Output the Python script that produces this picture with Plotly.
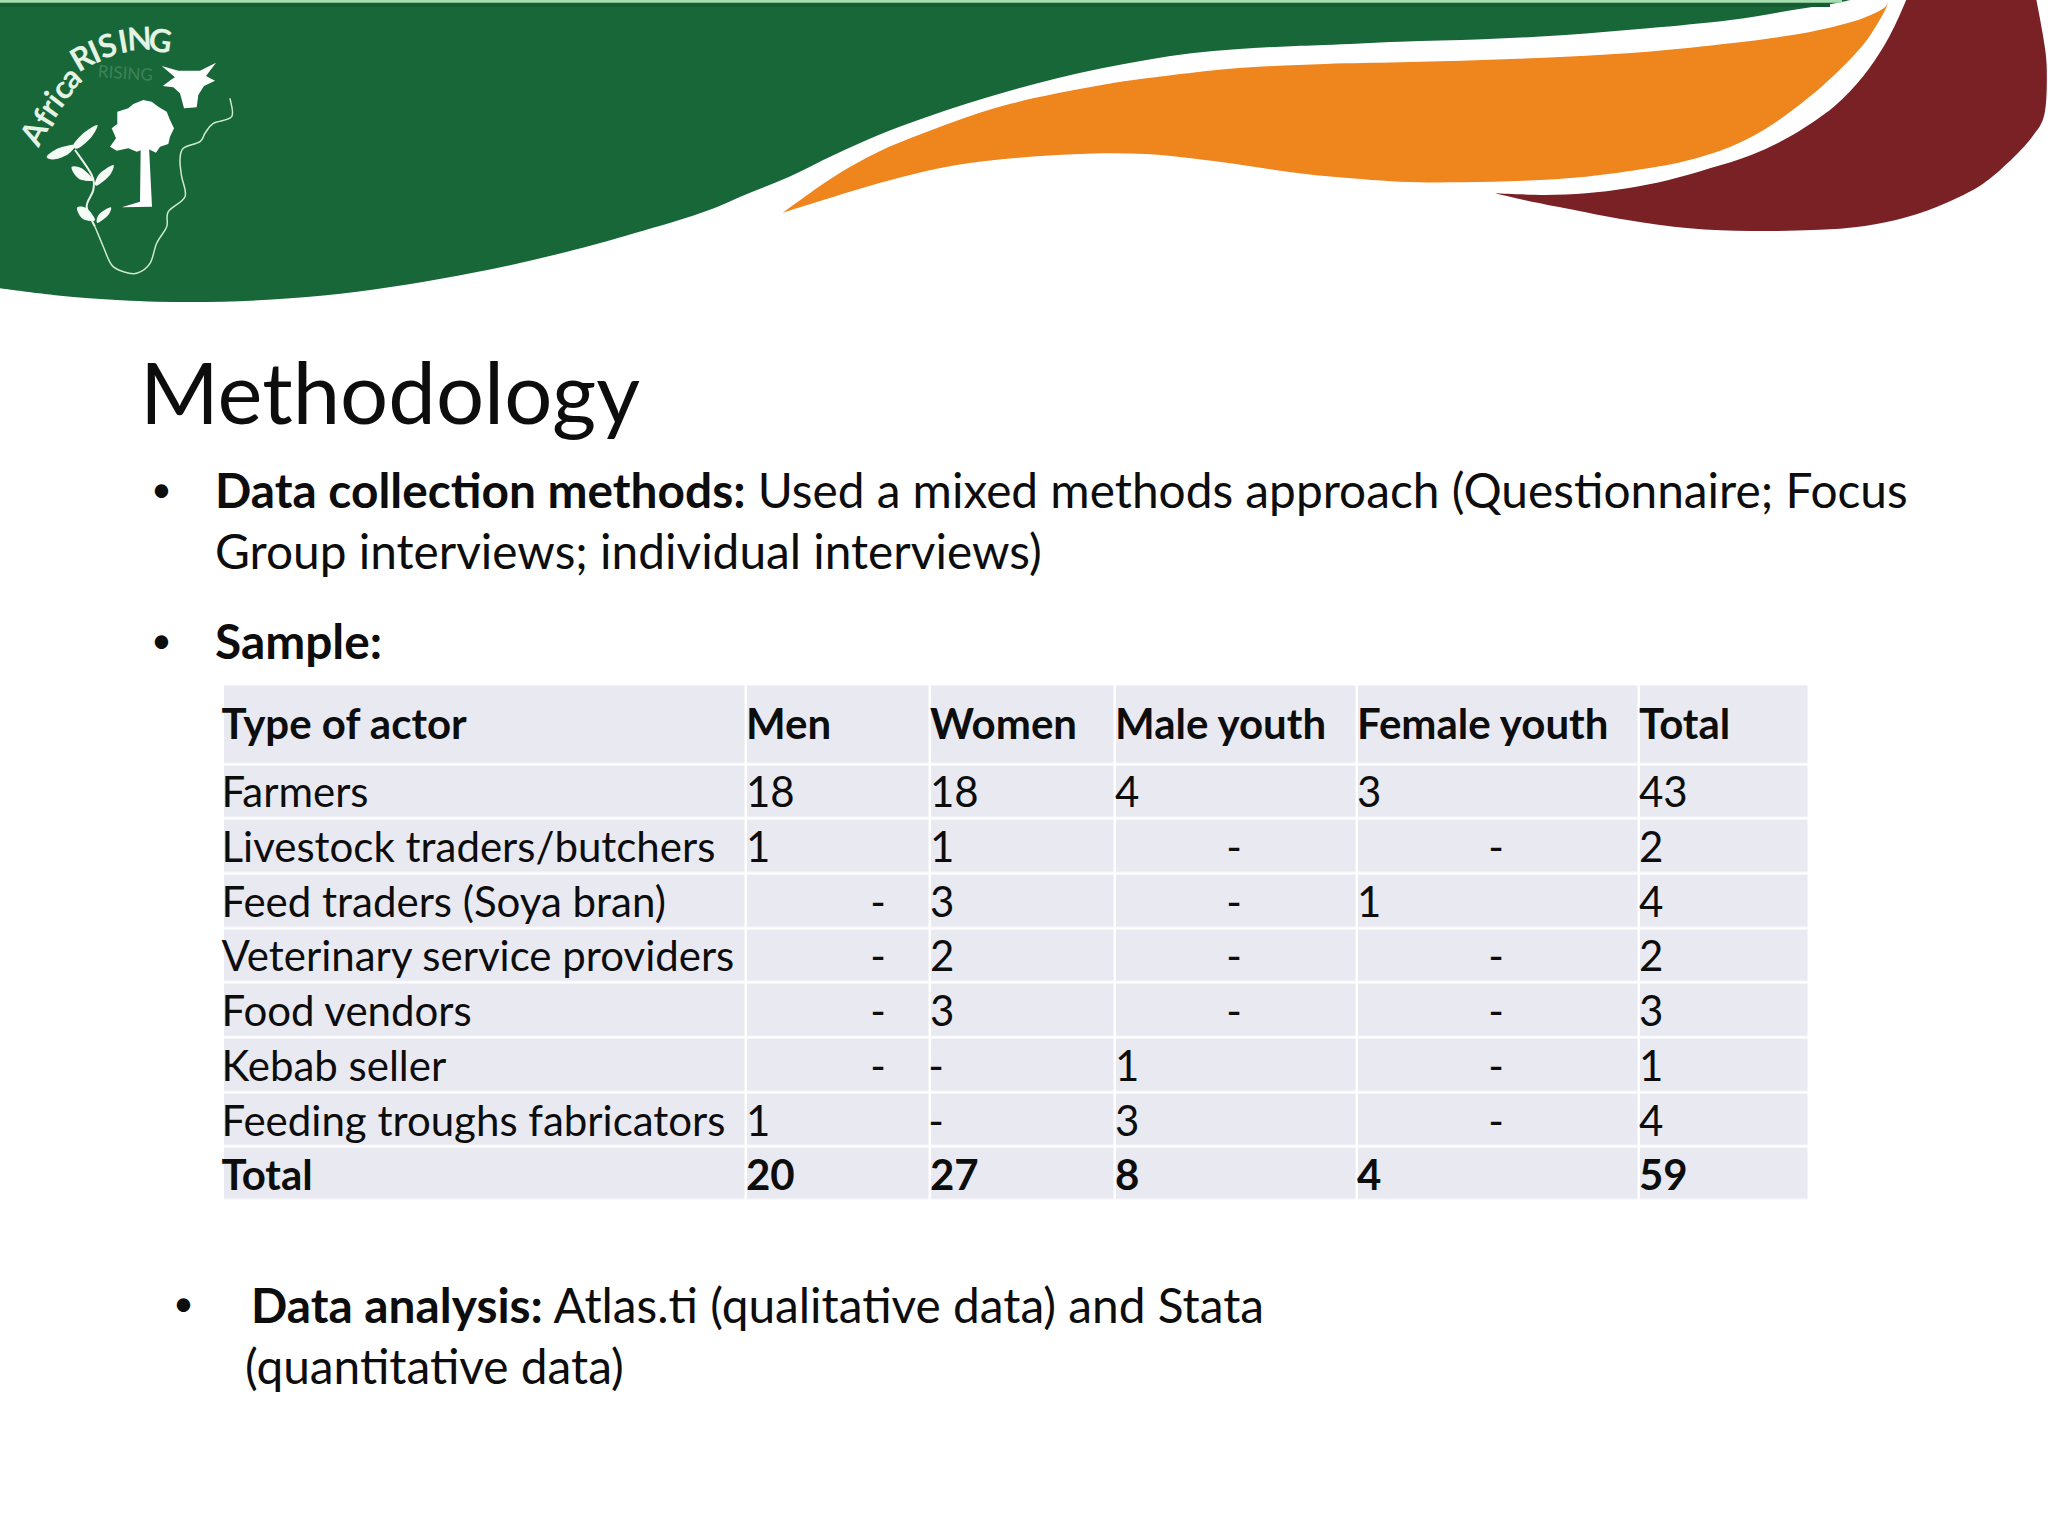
import plotly.graph_objects as go

# ---- table data
columns = ["Type of actor", "Men", "Women", "Male youth", "Female youth", "Total"]
actors = ["Farmers", "Livestock traders/butchers", "Feed traders (Soya bran)",
          "Veterinary service providers", "Food vendors", "Kebab seller",
          "Feeding troughs fabricators", "Total"]
men = ["18", "1", "-", "-", "-", "-", "1", "20"]
women = ["18", "1", "3", "2", "3", "-", "-", "27"]
male_youth = ["4", "-", "-", "-", "-", "1", "3", "8"]
female_youth = ["3", "-", "1", "-", "-", "-", "-", "4"]
totals = ["43", "2", "4", "2", "3", "1", "4", "59"]

# ---- layout of the table (page pixels)
col_edges = [223, 746, 930, 1115, 1357, 1639, 1809]
row_edges = [684.5, 764, 818.7, 873.4, 928.1, 982.8, 1037.5, 1092.2, 1146.9, 1200.5]
dash_x = [None, 878, 936, 1234, 1496, None]

FONT = "Lato"
INK = "#0d0d0d"
BODY = 47.8
TABLE = 42.0

def smooth(points, closed=True, sx=1.0, sy=1.0):
    """Catmull-Rom through the points, as an SVG path."""
    p = [(a * sx, b * sy) for a, b in points]
    n = len(p)
    d = f"M{p[0][0]:.1f},{p[0][1]:.1f}"
    for i in range(n if closed else n - 1):
        if closed:
            p0, p1, p2, p3 = p[(i - 1) % n], p[i], p[(i + 1) % n], p[(i + 2) % n]
        else:
            p0, p1, p2, p3 = p[max(i - 1, 0)], p[i], p[i + 1], p[min(i + 2, n - 1)]
        c1 = (p1[0] + (p2[0] - p0[0]) / 6, p1[1] + (p2[1] - p0[1]) / 6)
        c2 = (p2[0] - (p3[0] - p1[0]) / 6, p2[1] - (p3[1] - p1[1]) / 6)
        d += f" C{c1[0]:.1f},{c1[1]:.1f} {c2[0]:.1f},{c2[1]:.1f} {p2[0]:.1f},{p2[1]:.1f}"
    return d + (" Z" if closed else "")

def poly(points, sx=1.0, sy=1.0):
    return "M" + " L".join(f"{a*sx:.1f},{b*sy:.1f}" for a, b in points) + " Z"

def crop_c(pts):   # crop starting at (0,130)
    return [(x / 2.24, 130 + y / 3) for x, y in pts]
def crop_a(pts):   # crop starting at (700,0)
    return [(700 + x / 2.24, y / 3) for x, y in pts]
def crop_b(pts):   # crop starting at (1400,0)
    return [(1400 + x / 2.42, y / 3) for x, y in pts]

green_edge = (crop_c([(0, 475), (100, 492), (200, 505), (350, 515), (500, 515), (650, 505), (800, 485), (950, 455),
                      (1100, 418), (1250, 372), (1400, 318), (1568, 250)])
              + crop_a([(100, 585), (200, 530), (300, 465), (400, 405), (500, 355), (600, 310), (700, 270), (800, 235),
                        (900, 205), (1000, 180), (1100, 160), (1200, 148), (1300, 140), (1400, 135)])
              + crop_b([(0, 125), (200, 118), (400, 105), (600, 85), (800, 60), (950, 30), (1060, 8), (1090, 0)]))
orange_top = (crop_a([(185, 638), (300, 530), (400, 455), (500, 400), (600, 350), (700, 310), (800, 280), (900, 255),
                      (1000, 235), (1200, 205), (1400, 192)])
              + crop_b([(0, 187), (200, 180), (400, 170), (600, 155), (800, 130), (950, 105), (1050, 80), (1120, 55),
                        (1170, 25), (1183, 0)]))
orange_low = (crop_b([(1183, 0), (1170, 40), (1130, 120), (1080, 190), (1020, 260), (950, 330), (880, 390), (800, 440),
                      (700, 480), (600, 505), (450, 530), (300, 542), (150, 547), (0, 545)])
              + crop_a([(1400, 528), (1300, 512), (1200, 492), (1100, 475), (1000, 462), (900, 460), (800, 465),
                        (700, 475), (600, 490), (500, 515), (400, 550), (300, 590), (185, 638)]))
maroon_outer = crop_b([(1540, 0), (1555, 100), (1565, 200), (1560, 340), (1530, 410), (1470, 490), (1400, 560),
                       (1300, 620), (1200, 660), (1100, 682), (1000, 690), (850, 693), (700, 685), (550, 660),
                       (400, 625), (300, 600), (230, 580)])
maroon_inner = crop_b([(230, 580), (350, 585), (450, 580), (550, 565), (650, 540), (750, 505), (850, 465), (950, 405),
                       (1050, 320), (1120, 230), (1170, 140), (1200, 70), (1225, 0)])

def open_path(points):
    return smooth(points, closed=False)

def cont(path):
    return " L" + path[1:]

green_path = "M0,0 L0,288 " + cont(open_path(green_edge)) + " Z"
orange_path = open_path(orange_top) + cont(open_path(orange_low)) + " Z"
maroon_path = open_path(maroon_outer) + cont(open_path(maroon_inner)) + " Z"

# ---- logo outlines, measured in a 3x crop
L = 1 / 3
africa = [(690, 295), (695, 350), (640, 370), (615, 400), (600, 425), (550, 445), (540, 480), (545, 530), (555, 590),
          (505, 635), (500, 680), (470, 730), (450, 790), (410, 820), (370, 815), (335, 795), (310, 740), (285, 680)]
stem = [(225, 450), (275, 525), (280, 570), (260, 620), (285, 680)]
leaves = [
    [(140, 470), (175, 445), (225, 435), (205, 462), (165, 478)],
    [(220, 435), (250, 400), (292, 375), (275, 410), (235, 445)],
    [(215, 500), (245, 505), (280, 540), (245, 540), (225, 525)],
    [(285, 550), (300, 520), (340, 495), (330, 525), (295, 555)],
    [(232, 622), (260, 625), (285, 660), (255, 660), (238, 645)],
    [(290, 660), (300, 640), (332, 622), (325, 645), (295, 668)],
]
trunk = [(422, 440), (447, 440), (456, 620), (365, 622), (420, 605)]
crown = [(330, 440), (348, 415), (335, 385), (352, 372), (352, 335), (385, 325), (400, 312), (430, 300), (455, 305),
         (475, 320), (500, 335), (510, 360), (522, 385), (510, 410), (505, 432), (480, 440), (468, 458), (440, 445),
         (410, 455), (385, 445), (350, 452)]
cow = [(485, 198), (535, 212), (600, 212), (648, 188), (618, 228), (645, 242), (612, 258), (595, 285), (590, 322),
       (552, 325), (540, 280), (520, 262), (488, 258), (515, 238), (525, 232)]
logo_letters = ["A", "f", "r", "i", "c", "a", "R", "I", "S", "I", "N", "G"]
letter_x = [98, 130, 145, 160, 180, 207, 245, 283, 322, 368, 418, 482]
letter_y = [398, 352, 320, 295, 265, 228, 170, 150, 132, 120, 112, 118]
letter_angle = [-62, -58, -55, -52, -48, -42, -30, -24, -18, -10, -3, 8]

shapes = [
    dict(type="path", path=green_path, fillcolor="#186738", line=dict(width=0), layer="below"),
    dict(type="rect", x0=0, x1=1830, y0=3, y1=7, fillcolor="#155c33", line=dict(width=0), layer="below"),
    dict(type="rect", x0=0, x1=1842, y0=0, y1=2.7, fillcolor="#a5dcb0", line=dict(width=0), layer="below"),
    dict(type="path", path=orange_path, fillcolor="#ee851d", line=dict(width=0), layer="below"),
    dict(type="path", path=maroon_path, fillcolor="#7a2126", line=dict(width=0), layer="below"),
    dict(type="path", path=smooth(africa, closed=False, sx=L, sy=L), line=dict(color="#cdeacf", width=1.5), layer="below"),
    dict(type="path", path=smooth(stem, closed=False, sx=L, sy=L), line=dict(color="#e9f5ea", width=2), layer="below"),
    dict(type="path", path=poly(trunk, L, L), fillcolor="#ffffff", line=dict(width=0), layer="below"),
    dict(type="path", path=poly(crown, L, L), fillcolor="#ffffff", line=dict(width=0), layer="below"),
    dict(type="path", path=poly(cow, L, L), fillcolor="#ffffff", line=dict(width=0), layer="below"),
]
for leaf in leaves:
    shapes.append(dict(type="path", path=smooth(leaf, sx=L, sy=L), fillcolor="#f4faf4", line=dict(width=0), layer="below"))

fig = go.Figure()

# table background
fig.add_trace(go.Heatmap(
    x=col_edges, y=row_edges,
    z=[[1] * (len(col_edges) - 1) for _ in range(len(row_edges) - 1)],
    colorscale=[[0, "#e9eaf1"], [1, "#e9eaf1"]], showscale=False,
    xgap=2.5, ygap=2.5, hoverinfo="skip",
))

# table text
row_mid = [(row_edges[i] + row_edges[i + 1]) / 2 for i in range(len(row_edges) - 1)]
table_cols = [actors, men, women, male_youth, female_youth, totals]
xs, ys, txt, dx, dy, dt = [], [], [], [], [], []
for c, name in enumerate(columns):
    xs.append(col_edges[c] - 1.5 if c == 0 else col_edges[c])
    ys.append(row_mid[0] + 4)
    txt.append(f"<b>{name}</b>")
    for r, v in enumerate(table_cols[c]):
        if v == "-":
            dx.append(dash_x[c]); dy.append(row_mid[r + 1] + 5.5); dt.append(v)
        else:
            xs.append(col_edges[c] - 1.5 if c == 0 else col_edges[c])
            ys.append(row_mid[r + 1] + 5.5)
            txt.append(f"<b>{v}</b>" if r == len(actors) - 1 else v)
fig.add_trace(go.Scatter(x=xs, y=ys, text=txt, mode="text", textposition="middle right",
                         textfont=dict(family=FONT, size=TABLE, color=INK), hoverinfo="skip", showlegend=False))
fig.add_trace(go.Scatter(x=dx, y=dy, text=dt, mode="text", textposition="middle center",
                         textfont=dict(family=FONT, size=TABLE, color=INK), hoverinfo="skip", showlegend=False))

def note(x, y, text, size=BODY, anchor="left"):
    return dict(x=x, y=y, text=text, showarrow=False, xanchor=anchor, yanchor="middle",
                font=dict(family=FONT, size=size, color=INK), xref="x", yref="y")

annotations = [
    note(138, 391, "Methodology", size=85),
    note(161, 488, "•", size=36, anchor="center"),
    note(213, 489, "<b>Data collection methods:</b> Used a mixed methods approach (Questionnaire; Focus"),
    note(213, 550, "Group interviews; individual interviews)"),
    note(161, 639, "•", size=36, anchor="center"),
    note(213, 640, "<b>Sample:</b>"),
    note(183, 1302, "•", size=36, anchor="center"),
    note(249, 1304, "<b>Data analysis:</b> Atlas.ti (qualitative data) and Stata"),
    note(243, 1365, "(quantitative data)"),
    dict(x=375 * L, y=218 * L, text="RISING", textangle=4, showarrow=False, xanchor="center", yanchor="middle",
         font=dict(family=FONT, size=17, color="#3f8259")),
]
for ch, lx, ly, ang in zip(logo_letters, letter_x, letter_y, letter_angle):
    annotations.append(dict(x=lx * L, y=ly * L, text=f"<b>{ch}</b>", textangle=ang, showarrow=False,
                            xanchor="center", yanchor="middle",
                            font=dict(family=FONT, size=32, color="#e4f3e4")))

fig.update_layout(
    width=2048, height=1536, margin=dict(l=0, r=0, t=0, b=0),
    paper_bgcolor="white", plot_bgcolor="white", showlegend=False,
    xaxis=dict(range=[0, 2048], visible=False, fixedrange=True),
    yaxis=dict(range=[1536, 0], visible=False, fixedrange=True),
    shapes=shapes, annotations=annotations,
)
fig.write_html("out.html", post_script="document.body.style.margin='0';",
               config=dict(displayModeBar=False))
